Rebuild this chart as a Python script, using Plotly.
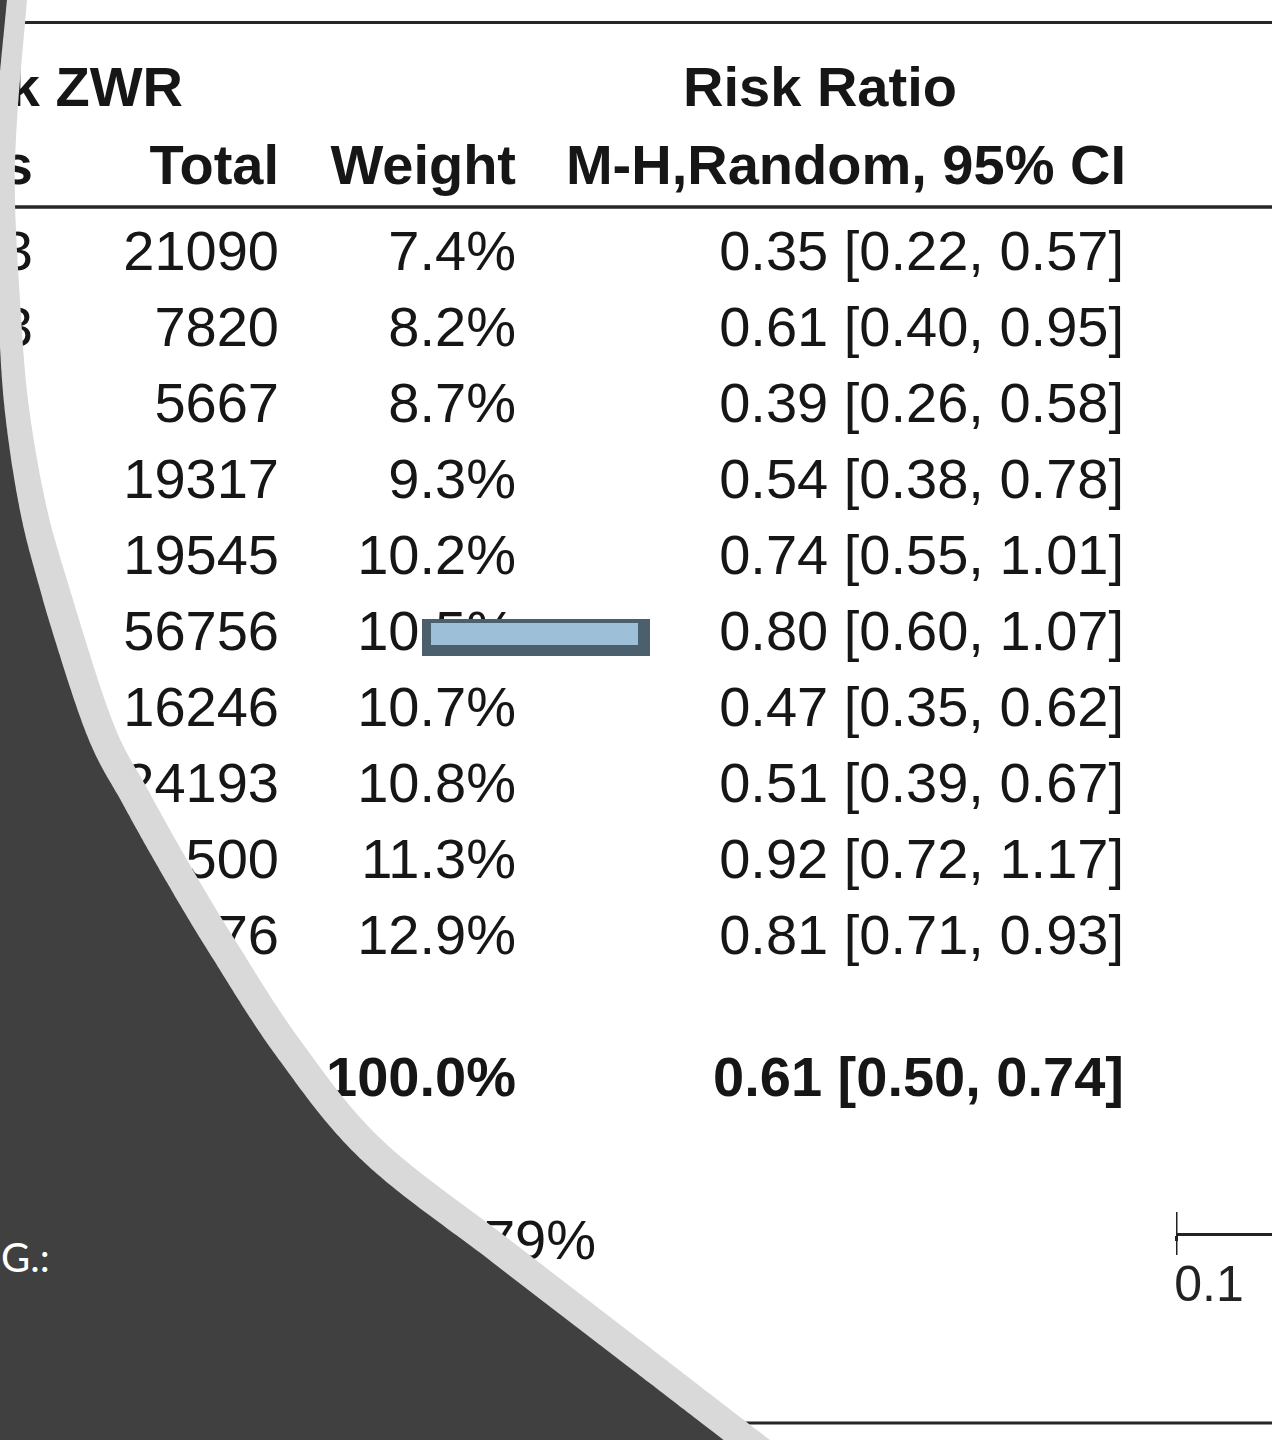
import numpy as np
import plotly.graph_objects as go

W, H = 1272, 1440

# ---------------- data ----------------
events_visible = ["3", "3"]                      # only the last digits are visible
totals = ["21090", "7820", "5667", "19317", "19545", "56756", "16246", "24193", "500", "76"]
weights = [7.4, 8.2, 8.7, 9.3, 10.2, 10.5, 10.7, 10.8, 11.3, 12.9]
rr = [0.35, 0.61, 0.39, 0.54, 0.74, 0.80, 0.47, 0.51, 0.92, 0.81]
rr_lo = [0.22, 0.40, 0.26, 0.38, 0.55, 0.60, 0.35, 0.39, 0.72, 0.71]
rr_hi = [0.57, 0.95, 0.58, 0.78, 1.01, 1.07, 0.62, 0.67, 1.17, 0.93]
total_weight = 100.0
pooled = [0.61, 0.50, 0.74]
i2_text = "79%"
axis_ticks = [0.1]
axis_ticktext = ["0.1"]

header1 = ["k ZWR", "Risk Ratio"]
header2 = ["s", "Total", "Weight", "M-H,Random, 95% CI"]

# ---------------- layout helpers ----------------
FONT = "Liberation Sans, Arial, sans-serif"
FS = 56
row_y0, row_dy = 255.5, 76.1
rows_y = [row_y0 + i * row_dy for i in range(len(totals))]
y_total_row = 1082
y_het = 1245
y_h1, y_h2 = 92, 170

col_events, col_total, col_weight, col_rr = 33, 279, 516, 1124

fig = go.Figure()


def text_trace(xs, ys, texts, pos="middle left", bold=False, size=FS, color="#161616"):
    fig.add_trace(go.Scatter(
        x=xs, y=ys, text=texts, mode="text", textposition=pos,
        textfont=dict(family=FONT, size=size, color=color,
                      weight="bold" if bold else "normal"),
        hoverinfo="skip", showlegend=False, cliponaxis=True))


# headers
text_trace([183], [y_h1], [header1[0]], bold=True)
text_trace([820], [y_h1], [header1[1]], pos="middle center", bold=True)
text_trace([col_events, col_total, col_weight, col_rr + 2], [y_h2] * 4, header2, bold=True)

# study rows
text_trace([col_events] * len(events_visible), rows_y[:len(events_visible)], events_visible)
text_trace([col_total] * len(totals), rows_y, totals)
text_trace([col_weight] * len(weights), rows_y, [f"{w:.1f}%" for w in weights])
text_trace([col_rr] * len(rr), rows_y,
           [f"{a:.2f} [{b:.2f}, {c:.2f}]" for a, b, c in zip(rr, rr_lo, rr_hi)])

# total row
text_trace([col_weight], [y_total_row], [f"{total_weight:.1f}%"], bold=True)
text_trace([col_rr], [y_total_row], [f"{pooled[0]:.2f} [{pooled[1]:.2f}, {pooled[2]:.2f}]"], bold=True)

# heterogeneity
text_trace([596], [y_het], [i2_text])

# invisible trace carrying the forest-plot axis (log scale) in its own small subplot
fig.add_trace(go.Scatter(x=axis_ticks, y=[0.5], xaxis="x2", yaxis="y2", mode="markers",
                         marker=dict(opacity=0), hoverinfo="skip", showlegend=False))

shapes = []
# table rules
for yy, lw in [(22.5, 3), (207, 3.5), (1423, 3)]:
    shapes.append(dict(type="line", xref="x", yref="y", x0=0, x1=W, y0=yy, y1=yy,
                       line=dict(color="#262626", width=lw), layer="below"))

# crossing tick at 0.1 on the forest-plot axis
y_axis_line = 1233
shapes.append(dict(type="line", xref="x2", yref="y", x0=axis_ticks[0], x1=axis_ticks[0],
                   y0=y_axis_line - 21, y1=y_axis_line + 22, line=dict(color="#222", width=3)))

# highlight box over the weight/plot column
shapes.append(dict(type="rect", xref="x", yref="y", x0=422, x1=650, y0=619, y1=656,
                   fillcolor="#4b5f6d", line=dict(width=0), layer="above"))
shapes.append(dict(type="rect", xref="x", yref="y", x0=431, x1=638, y0=623, y1=645,
                   fillcolor="#9dc0d8", line=dict(width=0), layer="above"))


# slide decoration: dark panel with light rim (curved)
def catmull(pts, n=40):
    pts = np.asarray(pts, float)
    out = []
    for i in range(1, len(pts) - 2):
        p0, p1, p2, p3 = pts[i - 1], pts[i], pts[i + 1], pts[i + 2]
        for t in np.linspace(0, 1, n, endpoint=False):
            t2, t3 = t * t, t * t * t
            out.append(0.5 * ((2 * p1) + (-p0 + p2) * t + (2 * p0 - 5 * p1 + 4 * p2 - p3) * t2
                              + (-p0 + 3 * p1 - 3 * p2 + p3) * t3))
    out.append(pts[-2])
    return np.array(out)


rim = [(40, -150), (30, -40), (27, 0), (17, 120), (15, 200), (20, 300), (28, 400), (45, 500),
       (67, 580), (112, 720), (148, 790), (190, 865), (235, 940), (300, 1040), (382, 1140),
       (510, 1240), (640, 1340), (770, 1440), (850, 1500), (915, 1550)]
outer = catmull(rim)
tang = np.gradient(outer, axis=0)
norm = np.stack([-tang[:, 1], tang[:, 0]], axis=1)
norm /= np.linalg.norm(norm, axis=1, keepdims=True)
thick = np.interp(outer[:, 1], [0, 350, 600, 1600], [20, 23, 29, 28])
inner = outer + thick[:, None] * norm


def poly_path(curve):
    pts = list(map(tuple, curve)) + [(curve[-1][0], 1700), (-400, 1700), (-400, -300), (curve[0][0], -300)]
    return "M " + " L ".join(f"{x:.1f},{y:.1f}" for x, y in pts) + " Z"


shapes.append(dict(type="path", xref="x", yref="y", path=poly_path(outer),
                   fillcolor="#d9d9d9", line=dict(width=0), layer="above"))
shapes.append(dict(type="path", xref="x", yref="y", path=poly_path(inner),
                   fillcolor="#404040", line=dict(width=0), layer="above"))

p_axis = 1 - y_axis_line / H
fig.update_layout(
    width=W, height=H, margin=dict(l=0, r=0, t=0, b=0, pad=0), autosize=False,
    paper_bgcolor="white", plot_bgcolor="rgba(0,0,0,0)", showlegend=False,
    xaxis=dict(range=[0, W], domain=[0, 1], visible=False, fixedrange=True, anchor="y"),
    yaxis=dict(range=[H, 0], domain=[0, 1], visible=False, fixedrange=True, anchor="x"),
    xaxis2=dict(type="log", domain=[1176 / W, 1], range=[-1, -0.45], anchor="y2",
                showline=True, linecolor="#222", linewidth=3, automargin=False,
                ticks="outside", ticklen=5, tickwidth=3, tickcolor="#222",
                ticklabelshift=33,
                tickvals=axis_ticks, ticktext=axis_ticktext, showgrid=False, zeroline=False,
                fixedrange=True, tickfont=dict(family=FONT, size=50, color="#222")),
    yaxis2=dict(domain=[p_axis, p_axis + 0.01], anchor="x2", visible=False, fixedrange=True,
                range=[0, 1]),
    shapes=shapes,
    annotations=[dict(text="G.:", x=52, y=1257, xref="x", yref="y", xanchor="right",
                      yanchor="middle", showarrow=False,
                      font=dict(family="Lato, Open Sans, sans-serif", size=40, color="white"))],
)

fig.write_html("out.html", config={"displayModeBar": False},
               post_script="document.body.style.margin='0';")
